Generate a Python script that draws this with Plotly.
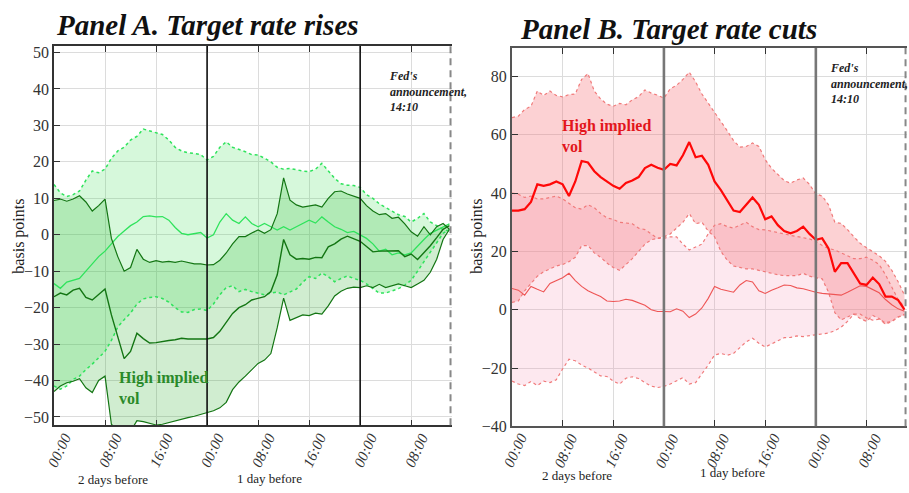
import plotly.graph_objects as go

W, H = 909, 493
SERIF = "Liberation Serif"

# hourly grid, two days before the meeting through the announcement day
hours = list(range(63))
tick_hours = [0, 8, 16, 24, 32, 40, 48, 56]
tick_text = ["00:00", "08:00", "16:00", "00:00", "08:00", "16:00", "00:00", "08:00"]
day_marks = [24, 48]
fed_hour = 62.17

# ---- Panel A: target rate rises (basis points) ----
a_low_up = [13.8, 11.5, 10.5, 11, 12, 15, 17.5, 17, 18, 21,
            23, 24, 26, 27, 29, 28.5, 28, 27.5, 26, 24,
            23, 22.5, 22.3, 22, 20.5, 21.5, 24, 25.5, 24, 23.5,
            22.8, 22, 21.9, 21, 20, 18.5, 18, 18.2, 17.8, 17.5,
            17.3, 18, 19.6, 17.5, 15.5, 14, 13.6, 13.5, 13, 11,
            10, 8.5, 7.6, 6.5, 5.5, 5, 3.5, 4.5, 5.8, 3.5,
            2.5, 1.4, 1]
a_low_mid = [-13.4, -14.7, -13, -12.5, -12, -10, -8, -6, -4.5, -2.5,
             -0.5, 1, 2.5, 3.5, 5, 5.2, 4.9, 5, 4, 2,
             0.4, 0, 0.4, 0.6, -0.9, 0, 3.5, 5.8, 4, 3.1,
             4.9, 3.1, 2.2, 3.1, 2.2, 1.3, 2.2, 1.3, 2.2, 3.1,
             4, 3.2, 4.9, 3.5, 2.2, 1.5, 0.6, 0.9, 0, -1,
             -2.5, -4.5, -4, -5.5, -5, -5.5, -5, -3, -1.3, 0.4,
             1.3, 2.2, 3]
a_low_lo = [-41.5, -42.4, -41.5, -39.7, -38.8, -37, -35.5, -33.7, -32, -29,
            -25.3, -23.3, -21.5, -19, -17.6, -17.2, -17, -17.5, -18.5, -20,
            -21.2, -21.3, -20.5, -20.4, -20.8, -19, -16.5, -14.5, -14, -15.6,
            -15, -15.6, -16, -16.5, -16, -15.7, -16.5, -15.8, -14.9, -13,
            -11.5, -12, -10.5, -11.5, -12.9, -12, -11.3, -12, -12.5, -13.5,
            -14.7, -16, -16, -15.4, -14.8, -13.8, -12.5, -10, -7.3, -4.7,
            -2.2, 0.4, 1.5]
a_high_up = [9.4, 9.8, 9.2, 9.8, 10.7, 9, 6.5, 8, 9.8, -1,
             -6, -10, -9, -4, -6.7, -7.6, -7.1, -7.5, -7.3, -7.6,
             -7.2, -7.6, -8, -8, -8.3, -8.2, -7, -5, -2.5, -0.5,
             -0.5, 0.5, 1.3, 0.4, 1.4, 5.8, 15.6, 9.5, 8.2, 7.6,
             8, 8.2, 7.6, 10, 11.8, 12, 11.2, 10.7, 10, 8,
             6.5, 5.5, 5.8, 4.5, 4.8, 3, 0.8, -0.4, 2.2, 0,
             2.2, 3.1, 1.5]
a_high_mid = [-17, -16, -16.5, -15.2, -14.7, -17.2, -17.9, -16.5, -14.9, -22,
              -28, -34, -32, -27, -28.5, -29.7, -29.6, -29.2, -29, -28.8,
              -28.4, -28.6, -28.5, -28.6, -28.6, -28.2, -26.5, -24, -21.6, -20,
              -19.2, -17.9, -17.4, -17, -15.6, -11, -1.3, -5.5, -6.7, -6.5,
              -6.7, -6.2, -6.3, -3.3, -2.5, -1.2, -0.4, -1, -1.8, -3.2,
              -4.7, -4.5, -4.5, -4.4, -4.4, -6, -5.3, -6.8, -5, -3,
              -0.8, 1.5, 2.5]
a_high_lo = [-43, -41.5, -40.6, -40.2, -39.5, -42, -43.3, -40, -38.8, -52,
             -54, -55, -54, -51, -51.3, -51.8, -52.2, -52, -51.5, -51,
             -50.6, -50.2, -49.8, -49.3, -49, -48.3, -47.5, -46, -42.5, -40.4,
             -38.8, -37, -35.3, -34.4, -32.6, -25.5, -17.4, -23.5, -22.8, -22,
             -22.2, -21.5, -21.8, -19.5, -16.8, -15.5, -14.7, -14.4, -14.5, -14,
             -14.5, -13.6, -14.5, -14, -13.5, -14, -14.5, -13.5, -12.5, -10.3,
             -6.7, -1.3, 1.5]

# ---- Panel B: target rate cuts (basis points) ----
b_high_up = [65.9, 66.4, 68.7, 69.8, 75, 73.5, 75, 73.5, 73, 73.8,
             74, 79, 81, 75, 72.3, 70.5, 69.8, 70.8, 70.3, 72,
             73.1, 75.4, 74.3, 73.6, 72.6, 75.8, 77, 79, 81.5, 78.2,
             74, 70.9, 67.6, 64.5, 61.4, 58, 55.8, 56, 57.2, 56,
             51.5, 48.5, 46.4, 44.3, 43.4, 44.5, 45.2, 43, 39.7, 39,
             36, 30, 29.6, 27.5, 25, 22.8, 21.3, 19.8, 18.5, 16.6,
             13.5, 9.6, 5]
b_high_mid = [34, 34, 34.5, 37, 43, 42.5, 43, 44, 43, 39,
              44, 51, 50.5, 47.5, 45.5, 44, 42.5, 41.5, 43.5, 44.3,
              45.5, 48.6, 49.7, 48.7, 48, 50, 49.5, 53, 57.5, 52.3,
              52.8, 49.7, 44, 41, 37.5, 34, 33.5, 36, 38.5, 36,
              31, 32, 29, 27, 26.2, 27, 28.5, 26, 24, 24.5,
              21, 13, 16, 16, 12.5, 9, 8.5, 11, 8.8, 4.5,
              4.5, 3.3, 0]
b_high_lo = [2.5, 3, 6.5, 9, 11.5, 13, 14, 15, 15.5, 16.5,
             18, 22, 22, 19.5, 18, 16, 14.5, 13.5, 15.5, 17.5,
             20, 22.5, 24, 24.5, 25, 26, 28, 30, 33, 29.5,
             30, 27, 25, 20, 17, 15, 14.5, 14, 14, 13.5,
             12.8, 12.5, 12, 11.7, 11.7, 11.7, 12.5, 11.5, 11, 10.6,
             6, -1, -3.5, -2.5, -1.5, -3, -4, -2, -3, -5,
             -4, -2.5, -2]
b_low_up = [40, 39.6, 38.5, 39, 38, 38, 38.5, 39, 38, 36.5,
            35, 34.5, 36, 35, 33, 31.5, 31, 30, 29.8, 29.5,
            28, 27.5, 26, 24.5, 24.5, 25, 25, 22.5, 20.5, 21.5,
            22.5, 26, 29, 29.5, 28.5, 28, 29, 30, 28.5, 27.5,
            27.4, 27, 26.5, 26, 25.5, 25.1, 24.7, 24.3, 23.5, 22,
            21, 20.5, 19.5, 18.5, 17.5, 17.5, 18, 17, 15.5, 12,
            8, 3.5, 1]
b_low_mid = [7.3, 6.7, 5, 8, 7, 6.1, 9, 10, 11, 12.5,
             10, 8, 6.5, 5.5, 4.5, 3, 2.8, 3, 3.6, 3.2,
             2.4, 1.5, 0, -0.6, -0.6, -0.7, 0.3, -0.5, -2.7, -1.5,
             0.6, 3.9, 8, 7, 6.5, 6, 8.5, 10, 9.5, 6.5,
             5.6, 6.7, 7.5, 8.5, 8.3, 7.5, 7.2, 6.5, 6, 5.6,
             5.4, 5, 5, 6, 7, 8.2, 8, 7, 5.8, 3.5,
             1.7, 0.3, -0.5]
b_low_lo = [-24.5, -25.5, -26, -24.6, -26, -24.5, -25, -24, -20.3, -17,
            -17.5, -19, -20, -21.5, -22.7, -22.9, -24.5, -25.5, -23.5, -23,
            -23.6, -25, -26.2, -26.7, -26.3, -25.5, -24.5, -23.3, -25.5, -25,
            -22, -19, -15.5, -15, -15.6, -15, -13, -11, -9.8, -11.5,
            -12.8, -11.8, -10.6, -9.6, -9.5, -9, -9.2, -8.9, -8.7, -8.4,
            -8, -7.2, -6, -4, -1.5, -1.5, -2.8, -3.6, -3.2, -4.5,
            -4, -2.5, -1.5]


def px(x):
    return x / W


def py(y):
    return 1 - y / H


fig = go.Figure()


def band(lo, up, fillcolor, xa, ya):
    fig.add_trace(go.Scatter(x=hours, y=lo, mode="lines", line=dict(width=0),
                             xaxis=xa, yaxis=ya, hoverinfo="skip", showlegend=False))
    fig.add_trace(go.Scatter(x=hours, y=up, mode="lines", line=dict(width=0),
                             fill="tonexty", fillcolor=fillcolor,
                             xaxis=xa, yaxis=ya, hoverinfo="skip", showlegend=False))


def line(vals, color, width, dash, xa, ya):
    fig.add_trace(go.Scatter(x=hours, y=vals, mode="lines",
                             line=dict(color=color, width=width, dash=dash),
                             xaxis=xa, yaxis=ya, hoverinfo="skip", showlegend=False))


# Panel A bands and lines
band(a_high_lo, a_high_up, "rgba(40,175,40,0.22)", "x", "y")
band(a_low_lo, a_low_up, "rgba(70,225,90,0.22)", "x", "y")
LIGHT_G = "#2fe35c"
DARK_G = "#137513"
line(a_low_up, LIGHT_G, 1.5, "dot", "x", "y")
line(a_low_lo, LIGHT_G, 1.5, "dot", "x", "y")
line(a_low_mid, LIGHT_G, 1.3, "solid", "x", "y")
line(a_high_up, DARK_G, 1.2, "solid", "x", "y")
line(a_high_lo, DARK_G, 1.2, "solid", "x", "y")
line(a_high_mid, DARK_G, 1.4, "solid", "x", "y")

# Panel B bands and lines
band(b_low_lo, b_low_up, "rgba(245,150,180,0.22)", "x2", "y2")
band(b_high_lo, b_high_up, "rgba(246,115,120,0.33)", "x2", "y2")
PALE_R = "#f07a7a"
line(b_low_up, PALE_R, 1.2, "dot", "x2", "y2")
line(b_low_lo, PALE_R, 1.2, "dot", "x2", "y2")
line(b_high_up, PALE_R, 1.2, "dot", "x2", "y2")
line(b_high_lo, PALE_R, 1.2, "dot", "x2", "y2")
line(b_low_mid, "#ee5555", 1.1, "solid", "x2", "y2")
line(b_high_mid, "#ff0808", 2.2, "solid", "x2", "y2")

grid = "#dcdcdc"
common_x = dict(range=[0, 62.4], tickvals=tick_hours, showticklabels=False,
                ticks="inside", ticklen=6, showline=True, mirror="ticks",
                showgrid=True, gridcolor=grid, gridwidth=1, zeroline=False)
common_y = dict(ticks="inside", ticklen=6, showline=True, showgrid=True,
                gridcolor=grid, gridwidth=1, zeroline=False,
                tickfont=dict(family=SERIF, size=16, color="#333"))

fig.update_layout(
    width=W, height=H, autosize=False,
    margin=dict(l=0, r=0, t=0, b=0),
    paper_bgcolor="white", plot_bgcolor="white",
    showlegend=False,
    xaxis=dict(domain=[px(54), px(452)], anchor="y", linecolor="#333",
               tickcolor="#333", linewidth=1.5, **common_x),
    yaxis=dict(domain=[py(433), py(45)], anchor="x", range=[-52.3, 51.8],
               tickvals=list(range(-50, 51, 10)), linecolor="#333",
               tickcolor="#333", linewidth=1.5, **common_y),
    xaxis2=dict(domain=[px(512), px(907)], anchor="y2", linecolor="#555",
                tickcolor="#333", linewidth=2, **common_x),
    yaxis2=dict(domain=[py(434), py(47)], anchor="x2", range=[-40, 89.8],
                tickvals=list(range(-40, 81, 20)), linecolor="#555",
                tickcolor="#333", linewidth=2, **common_y),
)

shapes = []
for xa, ya, col, wd in (("x", "y", "#111", 1.6), ("x2", "y2", "#777", 2.6)):
    for d in day_marks:
        shapes.append(dict(type="line", xref=xa, yref=f"{ya} domain", x0=d, x1=d,
                           y0=0, y1=1, line=dict(color=col, width=wd)))
    shapes.append(dict(type="line", xref=xa, yref=f"{ya} domain", x0=fed_hour,
                       x1=fed_hour, y0=0, y1=1,
                       line=dict(color="#888", width=2, dash="7px,5px")))
fig.update_layout(shapes=shapes)

ann = []


def centered(x, y, text, font, **kw):
    d = dict(x=px(x), y=py(y), xref="paper", yref="paper", text=text,
             xanchor="center", yanchor="middle", showarrow=False, font=font)
    d.update(kw)
    ann.append(d)


# rotated time-of-day labels
for xa, yc, shift in (("x", 459, 5), ("x2", 459, 3)):
    for h, t in zip(tick_hours, tick_text):
        ann.append(dict(x=h, xref=xa, y=py(yc), yref="paper", text=f"<i>{t}</i>",
                        xanchor="center", yanchor="middle",
                        textangle=-65, showarrow=False, xshift=shift,
                        font=dict(family=SERIF, size=15, color="#333")))

day_font = dict(family=SERIF, size=13, color="#222")
for x, y, t in ((113, 488, "2 days before"), (269, 487, "1 day before"),
                (577, 484, "2 days before"), (732, 481, "1 day before")):
    centered(x, y, t, day_font)

title_font = dict(family=SERIF, size=29, color="#111")
centered(207, 24, "<b><i>Panel A. Target rate rises</i></b>", title_font)
centered(668, 28, "<b><i>Panel B. Target rate cuts</i></b>", title_font)

for x in (19, 477):
    centered(x, 240, "basis points", dict(family=SERIF, size=16, color="#222"),
             textangle=-90)

fed_font = dict(family=SERIF, size=12, color="#222")
for x, y in ((387, 66), (828, 58)):
    ann.append(dict(x=px(x), y=py(y), xref="paper", yref="paper",
                    xanchor="left", yanchor="top", align="left",
                    text="<b><i>Fed's<br>announcement,<br>14:10</i></b>",
                    showarrow=False, font=fed_font))

ann.append(dict(x=px(117), y=py(373), xref="paper", yref="paper",
                xanchor="left", yanchor="top", align="left",
                text="<b>High implied<br>vol</b>", showarrow=False,
                font=dict(family=SERIF, size=16, color="#2a8a2a")))
ann.append(dict(x=px(560), y=py(116), xref="paper", yref="paper",
                xanchor="left", yanchor="top", align="left",
                text="<b>High implied<br>vol</b>", showarrow=False,
                font=dict(family=SERIF, size=16, color="#e3161c")))

fig.update_layout(annotations=ann)
fig.write_html("out.html")
